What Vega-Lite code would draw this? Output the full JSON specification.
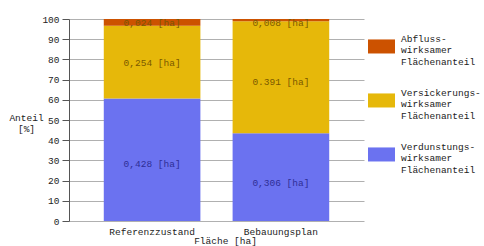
{
  "$schema": "https://vega.github.io/schema/vega-lite/v6.json",
  "autosize": "none",
  "width": 295,
  "height": 202,
  "padding": {"left": 69, "top": 19, "right": 120, "bottom": 25},
  "background": "white",
  "config": {
    "view": {"stroke": null},
    "font": "Liberation Mono",
    "axis": {"labelFont": "Liberation Mono", "titleFont": "Liberation Mono", "labelFontSize": 9.5, "titleFontSize": 9.5, "titleFontWeight": "normal", "labelColor": "#222", "titleColor": "#222"},
    "legend": {"labelFont": "Liberation Mono", "labelFontSize": 9.5, "labelColor": "#222"}
  },
  "data": {
    "values": [
      {"flaeche": "Referenzzustand", "anteil": "Verdunstungs-wirksamer Flächenanteil", "ha": 0.428, "label": "0,428 [ha]", "o": 1},
      {"flaeche": "Referenzzustand", "anteil": "Versickerungs-wirksamer Flächenanteil", "ha": 0.254, "label": "0,254 [ha]", "o": 2},
      {"flaeche": "Referenzzustand", "anteil": "Abfluss-wirksamer Flächenanteil", "ha": 0.024, "label": "0,024 [ha]", "o": 3},
      {"flaeche": "Bebauungsplan", "anteil": "Verdunstungs-wirksamer Flächenanteil", "ha": 0.306, "label": "0,306 [ha]", "o": 1},
      {"flaeche": "Bebauungsplan", "anteil": "Versickerungs-wirksamer Flächenanteil", "ha": 0.391, "label": "0.391 [ha]", "o": 2},
      {"flaeche": "Bebauungsplan", "anteil": "Abfluss-wirksamer Flächenanteil", "ha": 0.008, "label": "0,008 [ha]", "o": 3}
    ]
  },
  "encoding": {
    "x": {
      "field": "flaeche", "type": "nominal", "sort": ["Referenzzustand", "Bebauungsplan"],
      "scale": {"paddingInner": 0.25, "paddingOuter": 0.27},
      "axis": {"title": "Fläche [ha]", "labelAngle": 0, "domain": false, "ticks": false, "labelPadding": 5, "titleX": 156, "titleY": 19, "titleBaseline": "middle"}
    },
    "y": {
      "field": "ha", "type": "quantitative", "stack": "normalize",
      "scale": {"domain": [0, 1], "nice": false},
      "axis": {
        "values": [0, 0.1, 0.2, 0.3, 0.4, 0.5, 0.6, 0.7, 0.8, 0.9, 1],
        "labelExpr": "format(datum.value * 100, 'd')",
        "title": ["Anteil", "[%]"], "titleAngle": 0, "titleAlign": "center", "titleBaseline": "middle",
        "titleX": -43, "titleY": 98, "titleLineHeight": 11,
        "grid": true, "gridColor": "#b0b0b0", "gridWidth": 1,
        "tickSize": 7, "tickColor": "#555", "domainColor": "#555", "labelPadding": 3
      }
    },
    "order": {"field": "o", "type": "quantitative"}
  },
  "layer": [
    {
      "mark": {"type": "bar"},
      "encoding": {
        "color": {
          "field": "anteil", "type": "nominal",
          "scale": {
            "domain": ["Abfluss-wirksamer Flächenanteil", "Versickerungs-wirksamer Flächenanteil", "Verdunstungs-wirksamer Flächenanteil"],
            "range": ["#cc5200", "#e6b80a", "#6b72f0"]
          },
          "legend": {
            "title": null, "orient": "none", "legendX": 299, "legendY": 6,
            "symbolType": "M-1,0.07L1,0.07L1,1.11L-1,1.11Z", "symbolSize": 729, "symbolStrokeWidth": 0,
            "labelExpr": "split(replace(datum.label, '-wirksamer ', '-|wirksamer|'), '|')",
            "labelBaseline": "middle",
            "labelOffset": 6, "rowPadding": 13, "labelLimit": 200
          }
        }
      }
    },
    {
      "transform": [{"filter": "datum.o < 3"}],
      "mark": {"type": "text", "font": "Liberation Mono", "fontSize": 9.5, "dy": 6},
      "encoding": {
        "y": {"field": "ha", "type": "quantitative", "stack": "normalize", "bandPosition": 0.5},
        "text": {"field": "label"},
        "color": {"condition": {"test": "datum.o == 1", "value": "#2e2e96"}, "value": "#7a5800"}
      }
    },
    {
      "transform": [{"filter": "datum.o == 3"}],
      "mark": {"type": "text", "font": "Liberation Mono", "fontSize": 9.5, "dy": 4, "color": "#7a5800"},
      "encoding": {
        "y": {"datum": 1, "type": "quantitative"},
        "text": {"field": "label"}
      }
    }
  ]
}
